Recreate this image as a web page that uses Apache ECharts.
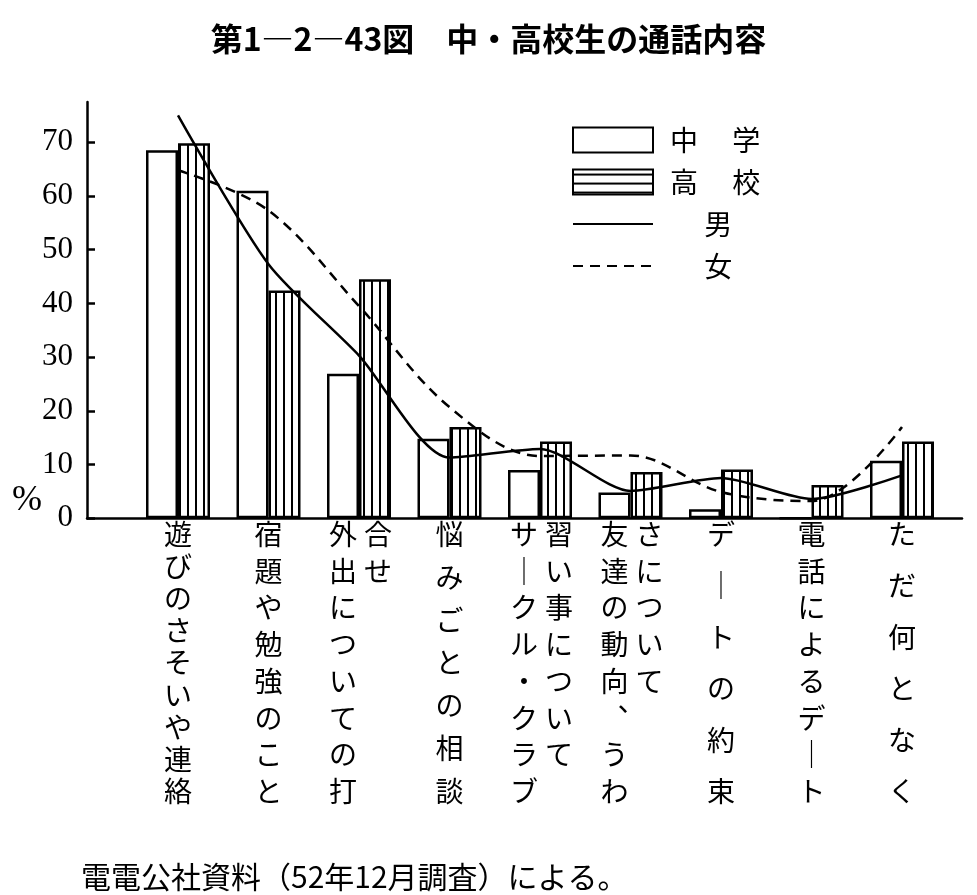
<!DOCTYPE html>
<html><head><meta charset="utf-8">
<script src="https://cdn.jsdelivr.net/npm/echarts@6/dist/echarts.min.js"></script>
<style>html,body{margin:0;padding:0;background:#fff}#c{width:977px;height:895px}</style>
</head><body><div id="c"></div>
<script>
// ---- data ----
const categories = ['遊びのさそいや連絡','宿題や勉強のこと','外出についての打合せ','悩みごとの相談','サークル・クラブ習い事について','友達の動向、うわさについて','デートの約束','電話によるデート','ただ何となく'];
const labelColumns = [['遊びのさそいや連絡'],['宿題や勉強のこと'],['外出についての打','合せ'],['悩みごとの相談'],['サークル・クラブ','習い事について'],['友達の動向、うわ','さについて'],['デートの約束'],['電話によるデート'],['ただ何となく']];
const juniorHigh = [68.5, 61.0, 26.9, 14.8, 9.0, 4.8, 1.7, 0, 10.7];
const seniorHigh = [69.8, 42.4, 44.5, 17.0, 14.3, 8.6, 9.1, 6.2, 14.3];
const male = [75.0, 47.3, 30.3, 11.3, 12.9, 5.1, 7.5, 3.6, 8.0];
const female = [64.8, 57.3, 39.5, 20.7, 11.6, 11.7, 4.9, 3.2, 17.0];
const yTicks = [0, 10, 20, 30, 40, 50, 60, 70];
const seriesNames = ['中学', '高校', '男', '女'];
const legendLabels = ['中　 学', '高　 校', '　 男', '　 女'];
const titleText = '第1―2―43図　中・高校生の通話内容';
const sourceText = '電電公社資料（52年12月調査）による。';
const yUnit = '%';

// ---- styling helpers ----
const JP = '"Noto Sans CJK JP", "Noto Sans CJK SC", sans-serif';
const FS = 28, SPAN = 257;
function vert(ch) { return ch === 'ー' ? '｜' : (ch === '、' ? '︑' : ch); }
function stripe(vertical) {
  const c = document.createElement('canvas');
  c.width = 8; c.height = vertical ? 8 : 9;
  const g = c.getContext('2d');
  g.fillStyle = '#fff'; g.fillRect(0, 0, c.width, c.height);
  g.fillStyle = '#000';
  if (vertical) g.fillRect(3, 0, 2, c.height); else g.fillRect(0, 4, c.width, 2);
  return { image: c, repeat: 'repeat' };
}
const rich = {};
function colText(i, c) {
  const cols = labelColumns[i];
  if (c >= cols.length) return '';
  const n = Array.from(cols[0]).length;
  const S = n > 1 ? SPAN / (n - 1) : FS;
  const key = 'k' + i + '_' + c;
  let pad = [0, 0, 0, 0];
  if (cols.length > 1) pad = c === 0 ? [0, 32, 0, 0] : [0, 0, 0, 38];
  rich[key] = { fontSize: FS, fontFamily: JP, color: '#000', lineHeight: S, height: 30, verticalAlign: 'top', padding: pad };
  return Array.from(cols[c]).map(ch => '{' + key + '|' + vert(ch) + '}').join('\n');
}
const leftLabels = categories.map((_, i) => colText(i, 0));
const rightLabels = categories.map((_, i) => colText(i, 1));

const chart = echarts.init(document.getElementById('c'), null, { renderer: 'canvas' });
const GT = 102, GB = 376.7;
chart.setOption({
  animation: false,
  backgroundColor: '#fff',
  title: [
    { text: titleText, left: 'center', top: 18, textStyle: { fontFamily: JP, fontSize: 32, fontWeight: 'bold', color: '#000' } },
    { text: sourceText, left: 76, top: 857, textStyle: { fontFamily: JP, fontSize: 30, fontWeight: 'normal', color: '#000' } }
  ],
  legend: {
    orient: 'vertical', left: 567, top: 121, itemWidth: 80, itemHeight: 25, itemGap: 14,
    selectedMode: false,
    textStyle: { fontFamily: JP, fontSize: 28, lineHeight: 25, color: '#000', padding: [0, 0, 0, 12] },
    formatter: name => legendLabels[seriesNames.indexOf(name)],
    data: [
      { name: seriesNames[0], icon: 'rect' },
      { name: seriesNames[1], icon: 'rect', itemStyle: { color: stripe(false) } },
      { name: seriesNames[2], itemStyle: { opacity: 0 } },
      { name: seriesNames[3], itemStyle: { opacity: 0 } }
    ]
  },
  grid: [
    { left: 132.75, right: 29.75, top: GT, bottom: GB },
    { left: 87, right: 15, top: GT, bottom: GB }
  ],
  xAxis: [
    { type: 'category', gridIndex: 0, data: categories, position: 'bottom',
      axisLine: { show: false }, axisTick: { show: false },
      axisLabel: { interval: 0, margin: 1, formatter: (v, i) => leftLabels[i], rich: rich } },
    { type: 'category', gridIndex: 0, data: categories, position: 'bottom',
      axisLine: { show: false }, axisTick: { show: false },
      axisLabel: { interval: 0, margin: 1, formatter: (v, i) => rightLabels[i], rich: rich } },
    { type: 'value', gridIndex: 1, min: 0, max: 1, position: 'bottom',
      axisLine: { show: true, lineStyle: { color: '#000', width: 2.5 } },
      axisTick: { show: false }, axisLabel: { show: false }, splitLine: { show: false } }
  ],
  yAxis: [
    { type: 'value', gridIndex: 0, min: 0, max: 77.5, interval: 10, offset: 45.75,
      axisLine: { show: true, lineStyle: { color: '#000', width: 2.5 } },
      axisTick: { show: true, inside: true, length: 8, lineStyle: { color: '#000', width: 2.5 }, customValues: yTicks },
      axisLabel: { color: '#000', fontFamily: '"Liberation Serif", serif', fontSize: 31, margin: 14, customValues: yTicks,
        formatter: v => (yTicks.indexOf(v) >= 0 ? String(v) : '') },
      splitLine: { show: false },
      name: yUnit, nameLocation: 'start', nameGap: 0,
      nameTextStyle: { fontFamily: '"Liberation Serif", serif', fontSize: 36, color: '#000', align: 'right', verticalAlign: 'bottom', padding: [0, 45, 0, 0] } },
    { type: 'value', gridIndex: 1, min: 0, max: 1, show: false }
  ],
  series: [
    { name: seriesNames[0], type: 'bar', xAxisIndex: 0, yAxisIndex: 0, data: juniorHigh, barWidth: 32, barGap: '0%',
      itemStyle: { color: '#fff', borderColor: '#000', borderWidth: 2.5 } },
    { name: seriesNames[1], type: 'bar', xAxisIndex: 0, yAxisIndex: 0, data: seniorHigh, barWidth: 32, barGap: '0%',
      itemStyle: { color: stripe(true), borderColor: '#000', borderWidth: 2.5 } },
    { name: seriesNames[2], type: 'line', xAxisIndex: 0, yAxisIndex: 0, data: male, smooth: 0.25, symbol: 'none', z: 5,
      lineStyle: { color: '#000', width: 2.5, type: 'solid' }, itemStyle: { color: '#000' } },
    { name: seriesNames[3], type: 'line', xAxisIndex: 0, yAxisIndex: 0, data: female, smooth: 0.35, symbol: 'none', z: 5,
      lineStyle: { color: '#000', width: 2.5, type: [10, 7] }, itemStyle: { color: '#000' } }
  ]
});
</script>
</body></html>
